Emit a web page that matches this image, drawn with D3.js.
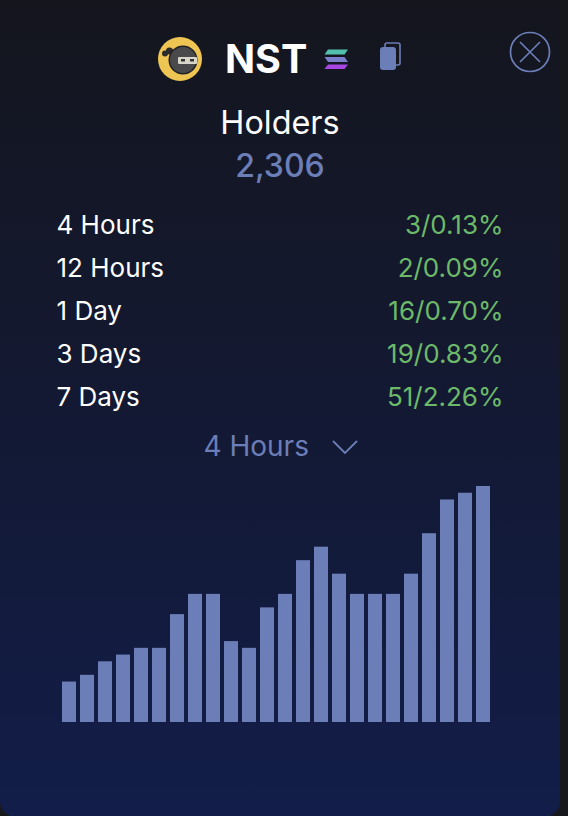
<!DOCTYPE html>
<html><head><meta charset="utf-8">
<script src="https://cdn.jsdelivr.net/npm/d3@7"></script>
<style>html,body{margin:0;padding:0;background:#17181c;overflow:hidden}svg{display:block}text{font-family:Inter,"Noto Sans",sans-serif}</style>
</head><body><div id="chart"></div>
<script>
const token = "NST";
const metricTitle = "Holders";
const metricValue = "2,306";
const periods = ["4 Hours", "12 Hours", "1 Day", "3 Days", "7 Days"];
const changes = ["3/0.13%", "2/0.09%", "16/0.70%", "19/0.83%", "51/2.26%"];
const selected = "4 Hours";
const holders = [2277,2278,2280,2281,2282,2282,2287,2290,2290,2283,2282,2288,2290,2295,2297,2293,2290,2290,2290,2293,2299,2304,2305,2306];
const barIndex = holders.map((d,i)=>i);

const W=568,H=816;
const svg=d3.select("#chart").append("svg").attr("width",W).attr("height",H);
const defs=svg.append("defs");
const g=defs.append("linearGradient").attr("id","bg").attr("x1",0).attr("x2",0).attr("y1",0).attr("y2",1);
g.append("stop").attr("offset","0%").attr("stop-color","#14151c");
g.append("stop").attr("offset","100%").attr("stop-color","#121d49");

svg.append("rect").attr("x",0).attr("y",-20).attr("width",560).attr("height",H+21).attr("rx",16).attr("fill","url(#bg)");

// header: token logo
const logo=svg.append("g").attr("transform","translate(180,59)");
logo.append("circle").attr("r",22).attr("fill","#eec452");
logo.append("circle").attr("cx",-10.5).attr("cy",-8).attr("r",3.6).attr("fill","#2b2b2d");
logo.append("circle").attr("cx",-15).attr("cy",-5.5).attr("r",3).attr("fill","#2b2b2d");
logo.append("circle").attr("cx",3).attr("cy",1).attr("r",14.5).attr("fill","#222226");
logo.append("circle").attr("cx",3).attr("cy",1).attr("r",13).attr("fill","#4a4a4d");
logo.append("rect").attr("x",-2).attr("y",-2).attr("width",19).attr("height",7).attr("rx",1).attr("fill","#d8d6c8");
logo.append("rect").attr("x",1).attr("y",0).attr("width",4).attr("height",2.5).attr("fill","#333");
logo.append("rect").attr("x",10).attr("y",0).attr("width",4).attr("height",2.5).attr("fill","#333");

svg.append("text").attr("x",225).attr("y",73).attr("font-size",39.5).attr("font-weight",700).attr("fill","#fff").text(token);

// chain mark
const sol=svg.append("g");
sol.append("path").attr("d","M328 49.5H348L344.5 54.5H324.5Z").attr("fill","#52c0ae");
sol.append("path").attr("d","M324.5 57H344.5L348 62H328Z").attr("fill","#7a7fcb");
sol.append("path").attr("d","M328 64.5H348L344.5 69H324.5Z").attr("fill","#a748e2");

// copy icon
svg.append("rect").attr("x",385).attr("y",43).attr("width",15).attr("height",22).attr("rx",2).attr("fill","none").attr("stroke","#6c7eb7").attr("stroke-width",1.6);
svg.append("rect").attr("x",380).attr("y",47).attr("width",16).attr("height",23).attr("rx",3).attr("fill","#6c7eb7");

// close icon
const close=svg.append("g").attr("fill","none").attr("stroke","#6c7eb7").attr("stroke-width",1.7);
close.append("circle").attr("cx",530).attr("cy",52).attr("r",19.5);
close.append("path").attr("d","M520 42L540 62M540 42L520 62");

svg.append("text").attr("x",280).attr("y",134).attr("text-anchor","middle").attr("font-size",32.4).attr("font-weight",400).attr("fill","#fff").text(metricTitle);
svg.append("text").attr("x",280).attr("y",177).attr("text-anchor","middle").attr("font-size",32).attr("font-weight",500).attr("fill","#6c7eb7").text(metricValue);

// change table
const rowY=d3.scalePoint().domain(periods).range([234,406]);
const rows=svg.append("g").selectAll("g").data(periods).join("g").attr("transform",d=>`translate(0,${rowY(d)})`);
rows.append("text").attr("x",56.5).attr("font-size",26).attr("fill","#fff").text(d=>d);
rows.append("text").attr("x",503.5).attr("text-anchor","end").attr("font-size",26).attr("fill","#6cb96a").text((d,i)=>changes[i]);

// dropdown
svg.append("text").attr("x",203.5).attr("y",456).attr("font-size",28).attr("fill","#6c7eb7").text(selected);
svg.append("path").attr("d","M333 441L345 453L357 441").attr("fill","none").attr("stroke","#6c7eb7").attr("stroke-width",1.8);

// bars
const x=d3.scaleBand().domain(barIndex).range([62,490]).paddingInner(4/18).paddingOuter(0);
const y=d3.scaleLinear().domain([2271,2306]).range([722,486]);
svg.append("g").selectAll("rect").data(holders).join("rect")
 .attr("x",(d,i)=>x(i)).attr("width",x.bandwidth()).attr("y",d=>y(d)).attr("height",d=>y.range()[0]-y(d)).attr("fill","#6c7eb7");
</script></body></html>
